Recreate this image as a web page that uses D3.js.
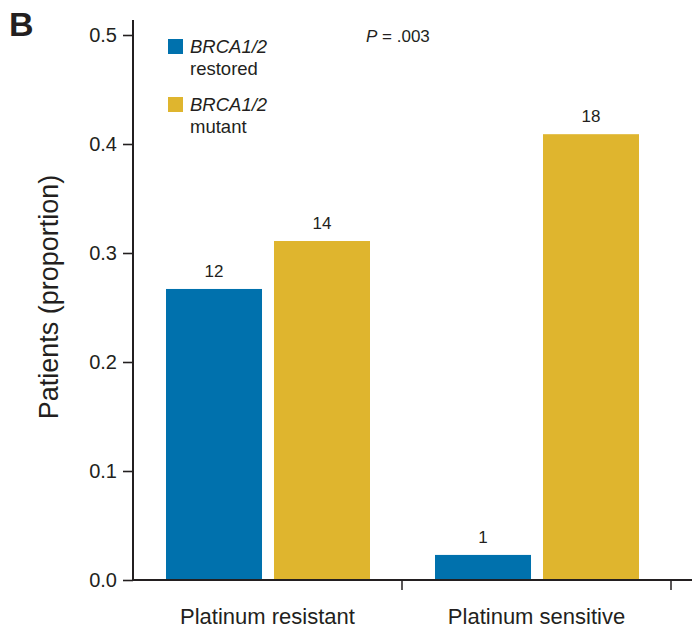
<!DOCTYPE html>
<html>
<head>
<meta charset="utf-8">
<script src="https://cdn.jsdelivr.net/npm/d3@7"></script>
<style>
  html, body { margin: 0; padding: 0; background: #fff; }
  svg { display: block; font-family: "Liberation Sans", Arial, Helvetica, sans-serif; }
</style>
</head>
<body>
<svg id="chart" width="692" height="630"></svg>
<script>
// Platinum response by BRCA1/2 status
const categories = ["Platinum resistant", "Platinum sensitive"];
const seriesKeys = ["restored", "mutant"];
const restoredValues = [0.267, 0.023];   // proportion of patients
const mutantValues = [0.311, 0.409];
const restoredCounts = [12, 1];           // patient counts shown above bars
const mutantCounts = [14, 18];
const yTicks = [0.0, 0.1, 0.2, 0.3, 0.4, 0.5];

const colors = { restored: "#0071ad", mutant: "#dfb52e" };
const ink = "#231f20";

const svg = d3.select("#chart");

const y = d3.scaleLinear().domain([0, 0.5]).range([580, 35]);
const x0 = d3.scaleBand().domain(categories).range([133, 671]).paddingInner(0).paddingOuter(0);
const x1 = d3.scaleBand().domain(seriesKeys).range([33, 237]).paddingInner(0.111).paddingOuter(0);

const rows = categories.map((c, i) => ({
  category: c,
  bars: [
    { key: "restored", value: restoredValues[i], count: restoredCounts[i] },
    { key: "mutant", value: mutantValues[i], count: mutantCounts[i] }
  ]
}));

// bars
const groups = svg.selectAll("g.cat").data(rows).join("g")
  .attr("class", "cat")
  .attr("transform", d => `translate(${x0(d.category)},0)`);

groups.selectAll("rect").data(d => d.bars).join("rect")
  .attr("x", d => x1(d.key))
  .attr("width", x1.bandwidth())
  .attr("y", d => y(d.value))
  .attr("height", d => y(0) - y(d.value))
  .attr("fill", d => colors[d.key]);

groups.selectAll("text.count").data(d => d.bars).join("text")
  .attr("class", "count")
  .attr("x", d => x1(d.key) + x1.bandwidth() / 2)
  .attr("y", d => y(d.value) - 12)
  .attr("text-anchor", "middle")
  .attr("font-size", 17)
  .attr("fill", ink)
  .text(d => d.count);

// y axis
const yAxis = svg.append("g")
  .attr("transform", "translate(133,0)")
  .call(d3.axisLeft(y).tickValues(yTicks).tickFormat(d3.format(".1f")).tickSize(10).tickPadding(6));
yAxis.select(".domain").remove();
yAxis.selectAll(".tick line").attr("stroke", ink).attr("stroke-width", 1.6);
yAxis.selectAll(".tick text").attr("font-size", 20).attr("fill", ink).attr("font-family", "Liberation Sans, Arial, sans-serif");
svg.append("line")
  .attr("x1", 133).attr("x2", 133)
  .attr("y1", 20).attr("y2", y(0) + 1)
  .attr("stroke", ink).attr("stroke-width", 2);

// x axis
svg.append("line")
  .attr("x1", 132).attr("x2", 692)
  .attr("y1", y(0)).attr("y2", y(0))
  .attr("stroke", ink).attr("stroke-width", 2);
const boundaries = [x0(categories[1]), x0.range()[1]];
svg.selectAll("line.xtick").data(boundaries).join("line")
  .attr("class", "xtick")
  .attr("x1", d => d).attr("x2", d => d)
  .attr("y1", y(0)).attr("y2", y(0) + 10)
  .attr("stroke", ink).attr("stroke-width", 1.5);
svg.selectAll("text.xlabel").data(categories).join("text")
  .attr("class", "xlabel")
  .attr("x", d => x0(d) + x0.bandwidth() / 2)
  .attr("y", 624)
  .attr("text-anchor", "middle")
  .attr("font-size", 22)
  .attr("fill", ink)
  .text(d => d);

// y axis title
svg.append("text")
  .attr("transform", "translate(58,297) rotate(-90)")
  .attr("text-anchor", "middle")
  .attr("font-size", 27)
  .attr("fill", ink)
  .text("Patients (proportion)");

// panel letter
svg.append("text")
  .attr("x", 9).attr("y", 36)
  .attr("font-size", 34)
  .attr("font-weight", "bold")
  .attr("fill", ink)
  .text("B");

// legend
const legend = [
  { key: "restored", label: "restored", top: 39 },
  { key: "mutant", label: "mutant", top: 97 }
];
const lg = svg.selectAll("g.legend").data(legend).join("g").attr("class", "legend");
lg.append("rect")
  .attr("x", 168).attr("y", d => d.top)
  .attr("width", 15).attr("height", 15)
  .attr("fill", d => colors[d.key]);
lg.append("text")
  .attr("x", 190).attr("y", d => d.top + 14)
  .attr("font-size", 18.5).attr("font-style", "italic").attr("fill", ink)
  .text("BRCA1/2");
lg.append("text")
  .attr("x", 190).attr("y", d => d.top + 36)
  .attr("font-size", 18.5).attr("fill", ink)
  .text(d => d.label);

// significance
const p = svg.append("text").attr("x", 366).attr("y", 42).attr("font-size", 17).attr("fill", ink);
p.append("tspan").attr("font-style", "italic").text("P");
p.append("tspan").text(" = .003");
</script>
</body>
</html>
